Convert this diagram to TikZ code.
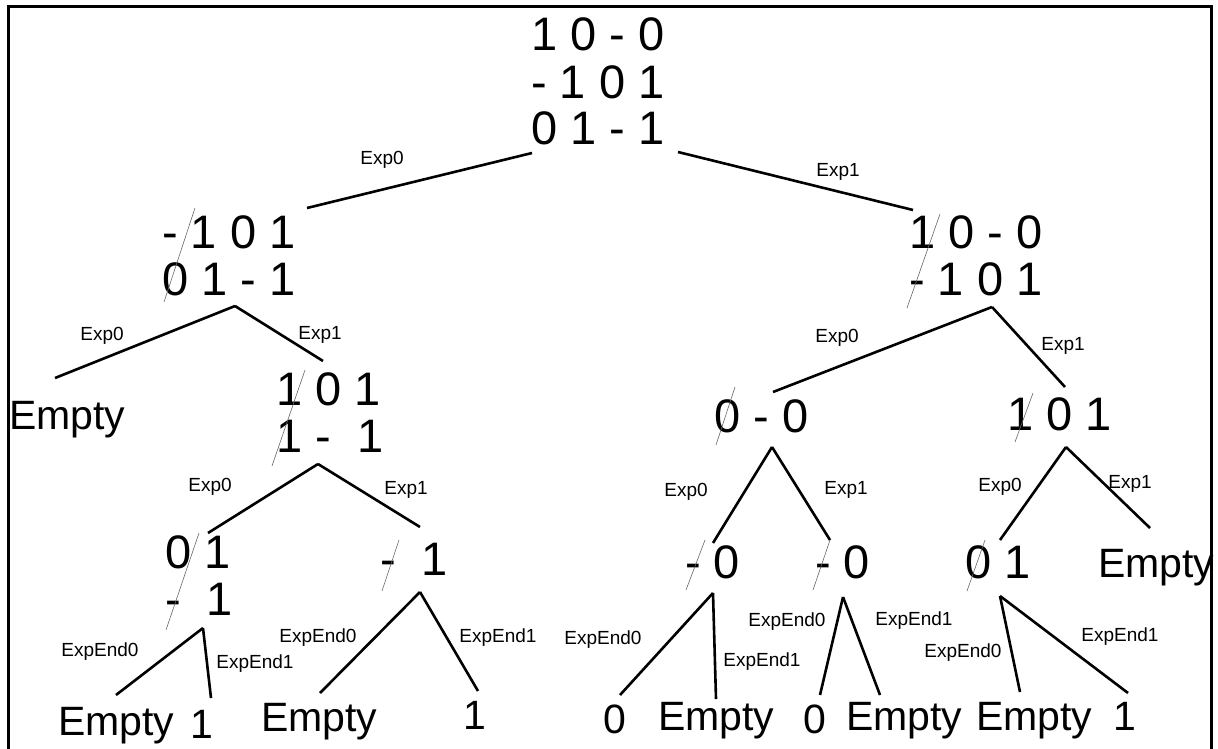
\documentclass[tikz,border=0pt]{standalone}
\usepackage{fontspec}
\setmainfont{Liberation Sans}

\tikzset{
  mat/.style={anchor=base west, inner sep=0pt, align=left, font=\fontsize{47}{47}\selectfont},
  leaf/.style={anchor=base west, inner sep=0pt, font=\fontsize{41}{44}\selectfont},
  lbl/.style={inner sep=0pt, font=\fontsize{19}{21}\selectfont},
  edge/.style={draw, line width=2.6pt},
  cross/.style={draw=black!60, line width=0.6pt},
}

\begin{document}
\begin{tikzpicture}[x=1pt,y=-1pt]
\useasboundingbox (0,0) rectangle (1218,749);
\draw[line width=3pt] (8,749) -- (8,7) -- (1211,7) -- (1211,749);

% tables (placed by the baseline of their last row)
\node[mat] (root) at (531,145) {1 0 - 0\\- 1 0 1\\0 1 - 1};
\node[mat] (L) at (162,295) {- 1 0 1\\0 1 - 1};
\node[mat] (R) at (909,295) {1 0 - 0\\- 1 0 1};
\node[mat] (LR) at (276,452) {1 0 1\\1 - \ 1};
\node[mat] (RL) at (714,432) {0 - 0};
\node[mat] (RR) at (1007,430) {1 0 1};
\node[mat] (LRL) at (165,615) {0 1\\- \ 1};
\node[mat] (LRR) at (380,575) {- \ 1};
\node[mat] (RLL) at (685,578) {- 0};
\node[mat] (RLR) at (815,578) {- 0};
\node[mat] (RRL) at (965,578) {0 1};

% leaves
\node[leaf] (L0) at (9,429) {Empty};
\node[leaf] (RR1) at (1098,577) {Empty};
\node[leaf] (LRL0) at (58,735) {Empty};
\node[leaf] (LRL1) at (190,738) {1};
\node[leaf] (LRR0) at (261,731) {Empty};
\node[leaf] (LRR1) at (463,729) {1};
\node[leaf] (RLL0) at (603,733) {0};
\node[leaf] (RLL1) at (658,730) {Empty};
\node[leaf] (RLR0) at (803,733) {0};
\node[leaf] (RLR1) at (846,730) {Empty};
\node[leaf] (RRL0) at (976,730) {Empty};
\node[leaf] (RRL1) at (1113,730) {1};

% struck-out columns
\path[cross] (195,208) -- (164,302);
\path[cross] (940,214) -- (907,308);
\path[cross] (305,370) -- (272,466);
\path[cross] (735,387) -- (716,445);
\path[cross] (1033,393) -- (1015,442);
\path[cross] (199,533) -- (166,630);
\path[cross] (399,540) -- (382,591);
\path[cross] (705,540) -- (686,590);
\path[cross] (830,540) -- (813,590);
\path[cross] (985,540) -- (967,591);

% branch points
\coordinate (root-0) at (532,153);
\coordinate (root-1) at (678,152);
\coordinate (L-fork) at (235,306);
\coordinate (R-fork) at (992,307);
\coordinate (LR-fork) at (318,464);
\coordinate (RL-fork) at (772,447);
\coordinate (RR-fork) at (1066,447);
\coordinate (LRL-fork) at (203,628);
\coordinate (LRR-fork) at (420,592);
\coordinate (RLL-fork) at (713,593);
\coordinate (RLR-fork) at (843,597);
\coordinate (RRL-fork) at (1000,596);

% branch ends
\coordinate (L-in) at (307,208);
\coordinate (R-in) at (913,210);
\coordinate (L0-in) at (55,378);
\coordinate (LR-in) at (323,361);
\coordinate (RL-in) at (773,392);
\coordinate (RR-in) at (1065,387);
\coordinate (LRL-in) at (208,533);
\coordinate (LRR-in) at (420,527);
\coordinate (RLL-in) at (713,543);
\coordinate (RLR-in) at (830,540);
\coordinate (RRL-in) at (1000,540);
\coordinate (RR1-in) at (1150,528);
\coordinate (LRL0-in) at (116,695);
\coordinate (LRL1-in) at (211,698);
\coordinate (LRR0-in) at (320,693);
\coordinate (LRR1-in) at (478,691);
\coordinate (RLL0-in) at (620,695);
\coordinate (RLL1-in) at (716,699);
\coordinate (RLR0-in) at (820,695);
\coordinate (RLR1-in) at (880,695);
\coordinate (RRL0-in) at (1020,692);
\coordinate (RRL1-in) at (1128,693);

\path[edge] (root-0) -- (L-in);
\path[edge] (root-1) -- (R-in);
\path[edge] (L-fork) -- (L0-in);
\path[edge] (L-fork) -- (LR-in);
\path[edge] (R-fork) -- (RL-in);
\path[edge] (R-fork) -- (RR-in);
\path[edge] (LR-fork) -- (LRL-in);
\path[edge] (LR-fork) -- (LRR-in);
\path[edge] (RL-fork) -- (RLL-in);
\path[edge] (RL-fork) -- (RLR-in);
\path[edge] (RR-fork) -- (RRL-in);
\path[edge] (RR-fork) -- (RR1-in);
\path[edge] (LRL-fork) -- (LRL0-in);
\path[edge] (LRL-fork) -- (LRL1-in);
\path[edge] (LRR-fork) -- (LRR0-in);
\path[edge] (LRR-fork) -- (LRR1-in);
\path[edge] (RLL-fork) -- (RLL0-in);
\path[edge] (RLL-fork) -- (RLL1-in);
\path[edge] (RLR-fork) -- (RLR0-in);
\path[edge] (RLR-fork) -- (RLR1-in);
\path[edge] (RRL-fork) -- (RRL0-in);
\path[edge] (RRL-fork) -- (RRL1-in);

% branch labels
\node[lbl] (e-root-0) at (382,160) {Exp0};
\node[lbl] (e-root-1) at (838,172) {Exp1};
\node[lbl] (e-L-0) at (102,336) {Exp0};
\node[lbl] (e-L-1) at (320,335) {Exp1};
\node[lbl] (e-R-0) at (837,338) {Exp0};
\node[lbl] (e-R-1) at (1063,346) {Exp1};
\node[lbl] (e-LR-0) at (210,487) {Exp0};
\node[lbl] (e-LR-1) at (406,490) {Exp1};
\node[lbl] (e-RL-0) at (686,492) {Exp0};
\node[lbl] (e-RL-1) at (846,490) {Exp1};
\node[lbl] (e-RR-0) at (1000,487) {Exp0};
\node[lbl] (e-RR-1) at (1130,484) {Exp1};
\node[lbl] (e-LRL-0) at (100,652) {ExpEnd0};
\node[lbl] (e-LRL-1) at (255,664) {ExpEnd1};
\node[lbl] (e-LRR-0) at (318,638) {ExpEnd0};
\node[lbl] (e-LRR-1) at (498,638) {ExpEnd1};
\node[lbl] (e-RLL-0) at (603,640) {ExpEnd0};
\node[lbl] (e-RLL-1) at (762,662) {ExpEnd1};
\node[lbl] (e-RLR-0) at (787,622) {ExpEnd0};
\node[lbl] (e-RLR-1) at (914,621) {ExpEnd1};
\node[lbl] (e-RRL-0) at (963,653) {ExpEnd0};
\node[lbl] (e-RRL-1) at (1120,637) {ExpEnd1};
\end{tikzpicture}
\end{document}
